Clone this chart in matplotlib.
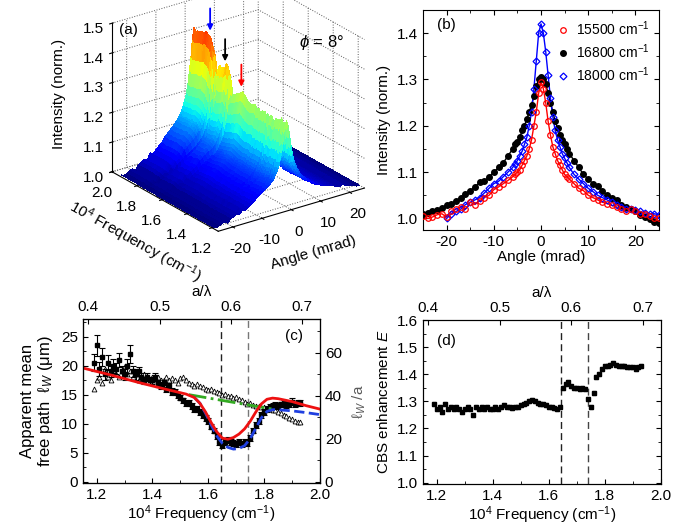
import numpy as np
import matplotlib.pyplot as plt
from matplotlib.ticker import MultipleLocator
from mpl_toolkits.mplot3d import proj3d

plt.rcParams['font.family'] = ['Liberation Sans', 'DejaVu Sans']
plt.rcParams['font.size'] = 11
plt.rcParams['mathtext.fontset'] = 'custom'
plt.rcParams['mathtext.rm'] = 'Liberation Sans'
plt.rcParams['mathtext.it'] = 'Liberation Sans:italic'
plt.rcParams['axes.unicode_minus'] = False
plt.rcParams['xtick.direction'] = 'in'
plt.rcParams['ytick.direction'] = 'in'

# ---- (b) angular CBS cones ----
angle = [-25, -24, -23, -22, -21, -20, -19, -18, -17, -16, -15, -14, -13, -12, -11, -10, -9, -8, -7,
         -6, -5.5, -5, -4.5, -4, -3.5, -3, -2.5, -2, -1.5, -1, -0.5, 0, 0.5, 1, 1.5, 2, 2.5, 3, 3.5, 4,
         4.5, 5, 5.5, 6,
         7, 8, 9, 10, 11, 12, 13, 14, 15, 16, 17, 18, 19, 20, 21, 22, 23, 24, 25]
I_15500 = [1.005, 1.0, 1.003, 1.008, 1.01, 1.003, 1.015, 1.02, 1.025, 1.02, 1.035, 1.03, 1.038, 1.045,
           1.05, 1.062, 1.068, 1.075, 1.082,
           1.09, 1.095, 1.10, 1.105, 1.115, 1.125, 1.135, 1.15, 1.17, 1.20, 1.23, 1.27, 1.295, 1.28,
           1.25, 1.21, 1.18, 1.155, 1.14, 1.125, 1.115, 1.105, 1.095, 1.09, 1.085,
           1.075, 1.065, 1.06, 1.05, 1.045, 1.04, 1.035, 1.032, 1.028, 1.025, 1.02, 1.015, 1.02, 1.015,
           1.01, 1.01, 1.005, 1.0, 1.0]
I_16800 = [1.01, 1.012, 1.015, 1.018, 1.022, 1.028, 1.032, 1.038, 1.045, 1.052, 1.06, 1.068, 1.078,
           1.08, 1.09, 1.10, 1.11, 1.12, 1.135,
           1.15, 1.16, 1.165, 1.175, 1.19, 1.20, 1.215, 1.23, 1.245, 1.265, 1.285, 1.30, 1.305, 1.30,
           1.29, 1.27, 1.25, 1.23, 1.21, 1.195, 1.18, 1.17, 1.16, 1.15, 1.14,
           1.125, 1.11, 1.095, 1.085, 1.075, 1.07, 1.06, 1.05, 1.045, 1.04, 1.03, 1.025, 1.02, 1.015,
           1.008, 1.003, 0.998, 0.993, 0.99]
I_18000 = [np.nan, np.nan, np.nan, np.nan, np.nan, 1.0, 1.01, 1.015, 1.02, 1.03, 1.035, 1.04, 1.045,
           1.055, 1.065, 1.075, 1.08, 1.09, 1.10,
           1.11, 1.118, 1.125, 1.135, 1.145, 1.16, 1.175, 1.20, 1.23, 1.28, 1.34, 1.40, 1.42, 1.40,
           1.36, 1.31, 1.26, 1.22, 1.19, 1.17, 1.155, 1.14, 1.13, 1.12, 1.11,
           1.095, 1.085, 1.075, 1.065, 1.058, 1.05, 1.045, 1.04, 1.035, 1.03, 1.025, 1.02, 1.02, 1.018,
           1.015, 1.012, 1.01, 1.01, 1.008]

# ---- (c), (d) spectra ----
freq = [1.19, 1.20, 1.21, 1.22, 1.23, 1.24, 1.25, 1.26, 1.27, 1.28, 1.29, 1.30, 1.31, 1.32, 1.33,
        1.34, 1.35, 1.36, 1.37, 1.38, 1.39, 1.40, 1.41, 1.42, 1.43, 1.44, 1.45, 1.46, 1.47, 1.48,
        1.49, 1.50, 1.51, 1.52, 1.53, 1.54, 1.55, 1.56, 1.57, 1.58, 1.59, 1.60, 1.61, 1.62, 1.63,
        1.64, 1.65, 1.66, 1.67, 1.68, 1.69, 1.70, 1.71, 1.72, 1.73, 1.74, 1.75, 1.76, 1.77, 1.78,
        1.79, 1.80, 1.81, 1.82, 1.83, 1.84, 1.85, 1.86, 1.87, 1.88, 1.89, 1.90, 1.91, 1.92, 1.93]
lw_meas = [20.5, 23.5, 19.5, 21.5, 18.5, 20.5, 19.0, 20.0, 19.5, 21.0, 19.0, 18.5, 20.0, 22.0, 19.0,
           18.5, 19.0, 18.0, 17.5, 18.0, 17.5, 17.5, 18.0, 17.0, 16.5, 17.0, 16.0, 16.5, 15.5, 15.5,
           15.0, 14.5, 14.0, 13.5, 13.5, 13.0, 12.5, 12.5, 12.0, 11.5, 11.0, 10.5, 9.5, 8.8, 7.8,
           6.8, 6.3, 6.8, 7.2, 6.8, 6.7, 6.5, 6.8, 6.5, 6.9, 6.7, 7.5, 8.8, 9.8, 10.5,
           11.5, 12.0, 12.5, 12.8, 13.0, 13.2, 13.0, 13.3, 13.5, 13.2, 13.4, 13.8, 13.3, 13.5, 13.6]
lw_err = [1.5, 1.8, 1.2, 1.5, 1.0, 1.3, 1.0, 1.2, 1.0, 1.2, 1.0, 1.0, 1.2, 1.5, 1.0,
          1.0, 0.8, 0.7, 0.6, 0.7, 0.6, 0.6, 0.7, 0.6, 0.6, 0.6, 0.6, 0.5, 0.6, 0.5,
          0.5, 0.5, 0.5, 0.5, 0.5, 0.5, 0.5, 0.5, 0.5, 0.5, 0.5, 0.5, 0.5, 0.5, 0.5,
          0.5, 0.5, 0.5, 0.5, 0.5, 0.5, 0.5, 0.5, 0.5, 0.5, 0.5, 0.5, 0.5, 0.5, 0.5,
          0.5, 0.5, 0.5, 0.5, 0.5, 0.5, 0.5, 0.5, 0.5, 0.5, 0.5, 0.6, 0.5, 0.5, 0.5]
lw_tri = [16.0, 17.5, 18.0, 17.0, 19.5, 18.0, 17.5, 19.0, 18.5, 18.0, 19.0, 20.0, 18.5, 19.0, 18.0,
          18.5, 17.5, 18.0, 18.5, 18.0, 17.5, 18.0, 17.5, 18.0, 17.5, 17.5, 18.0, 17.5, 17.8, 17.5,
          17.0, 17.8, 18.0, 17.5, 17.0, 16.8, 16.5, 16.8, 16.5, 16.4, 16.0, 15.8, 16.0, 15.6, 15.5,
          15.2, 15.0, 15.1, 14.8, 14.7, 14.5, 14.6, 14.2, 14.0, 13.8, 13.4, 13.5, 13.2, 13.0, 13.0,
          12.8, 12.8, 12.5, 12.6, 12.4, 12.3, 12.0, 11.8, 11.5, 11.3, 11.0, 10.8, 10.5, 10.3, 10.2]
E_cbs = [1.29, 1.27, 1.28, 1.26, 1.29, 1.27, 1.28, 1.27, 1.28, 1.27, 1.26, 1.27, 1.28, 1.27, 1.25,
         1.28, 1.27, 1.28, 1.27, 1.28, 1.27, 1.27, 1.28, 1.27, 1.28, 1.285, 1.28, 1.28, 1.275, 1.28,
         1.28, 1.285, 1.29, 1.295, 1.30, 1.305, 1.30, 1.295, 1.29, 1.29, 1.285, 1.28, 1.28, 1.275, 1.27,
         1.28, 1.35, 1.365, 1.37, 1.355, 1.35, 1.35, 1.345, 1.35, 1.345, 1.31, 1.28, 1.33, 1.39, 1.40,
         1.42, 1.43, 1.43, 1.435, 1.44, 1.435, 1.43, 1.43, 1.43, 1.428, 1.425, 1.425, 1.42, 1.425, 1.43]

# model curves
fit_f = [1.15, 1.25, 1.35, 1.45, 1.52, 1.55, 1.57, 1.59, 1.61, 1.63, 1.65, 1.67, 1.69, 1.71, 1.73,
         1.75, 1.77, 1.79, 1.81, 1.83, 1.85, 1.90, 1.95, 2.0]
fit_red = [19.6, 18.4, 17.1, 15.9, 15.1, 14.5, 13.5, 12.0, 10.2, 8.6, 7.5, 7.3, 7.6, 8.2, 9.1,
           10.4, 12.0, 13.4, 14.2, 14.4, 14.3, 13.8, 13.1, 12.5]
blue_f = [1.55, 1.57, 1.59, 1.61, 1.63, 1.65, 1.67, 1.69, 1.71, 1.73, 1.75, 1.77, 1.79, 1.81, 1.83,
          1.85, 1.90, 1.95, 2.0]
fit_blue = [14.5, 13.5, 11.8, 9.8, 7.9, 6.6, 5.9, 5.6, 5.7, 6.2, 7.4, 9.2, 11.0, 12.1, 12.4,
            12.4, 12.2, 11.9, 11.55]
green_f = [1.53, 1.83]
fit_green = [15.0, 12.5]

gap_edges = [1.645, 1.742]
a_um = 0.37

fig = plt.figure(figsize=(6.83, 5.27), dpi=100)

# ---------------- (a) 3D surface ----------------
ax3 = fig.add_axes([0.036, 0.513, 0.614, 0.558], projection='3d')
A, F = np.meshgrid(angle, freq)
prof = (np.array(I_15500) - 1) / (max(I_15500) - 1)
Z = 1 + np.outer(np.array(E_cbs) - 1, prof)
ax3.plot_surface(A, F, Z, cmap='jet', vmin=1.0, vmax=1.5, rstride=1, cstride=1,
                 linewidth=0, antialiased=False, shade=True)
ax3.set_xlim(-25, 25)
ax3.set_ylim(1.15, 2.0)
ax3.set_zlim(1.0, 1.5)
ax3.set_xticks([-20, -10, 0, 10, 20])
ax3.set_yticks([1.2, 1.4, 1.6, 1.8, 2.0])
ax3.set_zticks([1.0, 1.1, 1.2, 1.3, 1.4, 1.5])
ax3.set_proj_type('ortho')
ax3.view_init(elev=24, azim=-126)
ax3.set_box_aspect((1, 1, 0.9))
for axis in (ax3.xaxis, ax3.yaxis, ax3.zaxis):
    axis.set_pane_color((1, 1, 1, 0))
    axis._axinfo['grid'].update({'linestyle': ':', 'color': '0.35', 'linewidth': 0.7})
ax3.tick_params(axis='both', pad=0)
ax3.set_xlabel('Angle (mrad)', labelpad=2)
ax3.set_ylabel('10$^4$ Frequency (cm$^{-1}$)', labelpad=2)
ax3.set_zlabel('Intensity (norm.)', labelpad=2)
M = ax3.get_proj()
for f_mark, col in [(1.80, 'blue'), (1.68, 'black'), (1.55, 'red')]:
    k = freq.index(f_mark)
    px, py, _ = proj3d.proj_transform(0, f_mark, E_cbs[k] + 0.01, M)
    ax3.annotate('', xy=(px, py), xycoords='data', xytext=(0, 20), textcoords='offset points',
                 arrowprops=dict(arrowstyle='-|>', color=col, lw=1.3, mutation_scale=8))
fig.text(128 / 683, 1 - 30 / 527, '(a)', ha='center', va='center', fontsize=11)
fig.text(322 / 683, 1 - 42 / 527, r'$\phi$ = 8°', ha='center', va='center', fontsize=12)

# ---------------- (b) ----------------
axb = fig.add_axes([423 / 683, 1 - 230 / 527, 236 / 683, 220 / 527])
axb.plot(angle, I_16800, '-', color='black', lw=1, zorder=2)
axb.plot(angle, I_18000, '-', color='blue', lw=1, zorder=2)
axb.plot(angle, I_15500, '-', color='red', lw=1, zorder=2)
axb.plot(angle, I_15500, 'o', ms=4, mfc='none', mec='red', mew=0.9, ls='none',
         label='15500 cm$^{-1}$', zorder=5)
axb.plot(angle, I_16800, 'o', ms=4, color='black', ls='none', label='16800 cm$^{-1}$', zorder=3)
axb.plot(angle, I_18000, 'D', ms=3.5, mfc='none', mec='blue', mew=0.9, ls='none',
         label='18000 cm$^{-1}$', zorder=4)
axb.set_xlim(-25, 25)
axb.set_ylim(0.975, 1.45)
axb.xaxis.set_major_locator(MultipleLocator(10))
axb.xaxis.set_minor_locator(MultipleLocator(5))
axb.yaxis.set_major_locator(MultipleLocator(0.1))
axb.yaxis.set_minor_locator(MultipleLocator(0.05))
axb.tick_params(which='both', top=True, right=True)
axb.set_xlabel('Angle (mrad)', labelpad=1)
axb.set_ylabel('Intensity (norm.)')
axb.legend(loc='upper right', frameon=False, handlelength=0.8, handletextpad=0.5,
           fontsize=10, borderaxespad=0.3, labelspacing=0.3)
axb.text(0.06, 0.93, '(b)', transform=axb.transAxes, ha='left', va='center')

# ---------------- (c) ----------------
axc = fig.add_axes([82.7 / 683, 1 - 483.3 / 527, 237.3 / 683, 164 / 527])
axc.errorbar(freq, lw_meas, yerr=lw_err, fmt='s', ms=3, color='black', ecolor='black',
             elinewidth=0.8, capsize=2, capthick=0.8, zorder=3)
axc.plot(freq, lw_tri, '^', ms=3.5, mfc='white', mec='black', mew=0.6, ls='none', zorder=2)
axc.plot(green_f, fit_green, '-.', color='#33aa22', lw=2, zorder=4)
axc.plot(blue_f, fit_blue, '--', color='#1f3fe0', lw=2, zorder=4)
axc.plot(fit_f, fit_red, '-', color='#ee1111', lw=2, zorder=5)
axc.axvline(gap_edges[0], color='#222222', ls='--', lw=1, dashes=(5, 3), zorder=1)
axc.axvline(gap_edges[1], color='#777777', ls='--', lw=1, dashes=(5, 3), zorder=1)
axc.set_xlim(1.15, 2.0)
axc.set_ylim(-0.3, 28)
axc.xaxis.set_major_locator(MultipleLocator(0.2))
axc.xaxis.set_minor_locator(MultipleLocator(0.1))
axc.yaxis.set_major_locator(MultipleLocator(5))
axc.yaxis.set_minor_locator(MultipleLocator(2.5))
axc.xaxis.set_major_formatter(plt.FormatStrFormatter('%.1f'))
axc.set_xlabel('10$^4$ Frequency (cm$^{-1}$)', labelpad=1)
axc.set_ylabel('Apparent mean\nfree path  ℓ$_W$ (μm)', fontsize=12, linespacing=1.1)
axc.text(0.93, 0.9, '(c)', transform=axc.transAxes, ha='right', va='center')
axc_r = axc.twinx()
axc_r.set_ylim(-0.3 / a_um, 28 / a_um)
axc_r.yaxis.set_major_locator(MultipleLocator(20))
axc_r.yaxis.set_minor_locator(MultipleLocator(10))
axc_r.set_ylabel('ℓ$_W$ /a', color='0.35', labelpad=6)
axc_t = axc.twiny()
axc_t.set_xlim(0.392, 0.725)
axc_t.xaxis.set_major_locator(MultipleLocator(0.1))
axc_t.set_xlabel('a/λ', labelpad=3)

# ---------------- (d) ----------------
axd = fig.add_axes([422.7 / 683, 1 - 484 / 527, 238 / 683, 164 / 527])
axd.errorbar(freq, E_cbs, yerr=0.007, fmt='s', ms=3, color='black', elinewidth=0.8,
             capsize=1.5, capthick=0.8)
axd.axvline(gap_edges[0], color='#222222', ls='--', lw=1, dashes=(5, 3), zorder=1)
axd.axvline(gap_edges[1], color='#444444', ls='--', lw=1, dashes=(5, 3), zorder=1)
axd.set_xlim(1.15, 2.0)
axd.set_ylim(0.995, 1.6)
axd.xaxis.set_major_locator(MultipleLocator(0.2))
axd.xaxis.set_minor_locator(MultipleLocator(0.1))
axd.yaxis.set_major_locator(MultipleLocator(0.1))
axd.yaxis.set_minor_locator(MultipleLocator(0.05))
axd.xaxis.set_major_formatter(plt.FormatStrFormatter('%.1f'))
axd.tick_params(which='both', right=True)
axd.set_xlabel('10$^4$ Frequency (cm$^{-1}$)', labelpad=1)
axd.set_ylabel('CBS enhancement $E$')
axd.text(0.06, 0.87, '(d)', transform=axd.transAxes, ha='left', va='center')
axd_t = axd.twiny()
axd_t.set_xlim(0.392, 0.725)
axd_t.xaxis.set_major_locator(MultipleLocator(0.1))
axd_t.set_xlabel('a/λ', labelpad=3)

fig.savefig('out.png', dpi=100)
